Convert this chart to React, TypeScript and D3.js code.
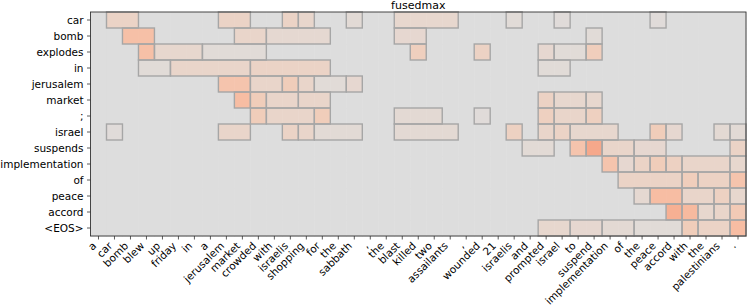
import React from 'react';
import * as d3 from 'd3';

const width = 747;
const height = 308;

// source sentence (columns)
const srcTokens = ["a", "car", "bomb", "blew", "up", "friday", "in", "a", "jerusalem", "market", "crowded", "with",
  "israelis", "shopping", "for", "the", "sabbath", ",", "the", "blast", "killed", "two", "assailants", ",", "wounded",
  "21", "israelis", "and", "prompted", "israel", "to", "suspend", "implementation", "of", "the", "peace", "accord",
  "with", "the", "palestinians", "."];

// target sentence (rows)
const tgtTokens = ["car", "bomb", "explodes", "in", "jerusalem", "market", ";", "israel", "suspends",
  "implementation", "of", "peace", "accord", "<EOS>"];

// fused groups per target row: [first col, last col, attention weight]
const fusedGroups: [number, number, number][][] = [
  [[1, 2, 0.12], [8, 9, 0.12], [12, 12, 0.12], [13, 13, 0.09], [16, 16, 0.04], [19, 22, 0.08], [26, 26, 0.03], [29, 29, 0.02], [35, 35, 0.02]],
  [[2, 3, 0.28], [9, 10, 0.1], [11, 14, 0.06], [19, 20, 0.07], [31, 31, 0.03]],
  [[3, 3, 0.28], [4, 6, 0.08], [7, 10, 0.03], [20, 20, 0.16], [24, 24, 0.13], [28, 28, 0.07], [29, 30, 0.03], [31, 31, 0.17]],
  [[3, 4, 0.03], [5, 9, 0.1], [10, 14, 0.12], [28, 29, 0.03]],
  [[8, 9, 0.25], [10, 11, 0.1], [12, 12, 0.18], [13, 13, 0.1], [14, 15, 0.03], [16, 16, 0.07]],
  [[9, 9, 0.3], [10, 10, 0.18], [11, 12, 0.1], [13, 14, 0.1], [28, 28, 0.13], [29, 30, 0.08], [31, 31, 0.08]],
  [[10, 10, 0.18], [11, 13, 0.1], [14, 14, 0.18], [19, 21, 0.05], [24, 24, 0.02], [28, 28, 0.15], [29, 30, 0.1], [31, 31, 0.15]],
  [[1, 1, 0.02], [8, 9, 0.1], [12, 12, 0.12], [13, 13, 0.1], [14, 16, 0.04], [19, 22, 0.05], [26, 26, 0.14], [28, 28, 0.1],
    [29, 29, 0.12], [30, 32, 0.08], [35, 35, 0.18], [36, 36, 0.07], [39, 39, 0.05], [40, 40, 0.04]],
  [[27, 28, 0.04], [30, 30, 0.25], [31, 31, 0.42], [32, 33, 0.1], [34, 35, 0.07], [40, 40, 0.12]],
  [[32, 32, 0.25], [33, 33, 0.07], [34, 34, 0.12], [35, 35, 0.18], [36, 36, 0.14], [37, 39, 0.1], [40, 40, 0.08]],
  [[33, 36, 0.12], [37, 37, 0.17], [38, 39, 0.13], [40, 40, 0.25]],
  [[34, 34, 0.06], [35, 36, 0.3], [37, 38, 0.1], [39, 39, 0.14], [40, 40, 0.08]],
  [[36, 36, 0.38], [37, 37, 0.32], [38, 38, 0.08], [39, 39, 0.1], [40, 40, 0.2]],
  [[28, 29, 0.08], [30, 31, 0.07], [32, 33, 0.05], [34, 36, 0.03], [37, 37, 0.18], [38, 39, 0.12], [40, 40, 0.3]],
];

// upper half of matplotlib's coolwarm (value 0 -> middle grey, value 1 -> dark red)
const coolwarmUpper = ["#dddddd", "#e5d8d1", "#ecd3c5", "#f1ccb8", "#f5c4ad", "#f7bba0", "#f7b194", "#f6a587",
  "#f49a7b", "#f18d6f", "#ec7f63", "#e57058", "#de604d", "#d55042", "#cb3e38", "#c0282f", "#b40426"];

const margin = {top: 12, right: 1, bottom: 72, left: 90.5};
const font = "'DejaVu Sans', sans-serif";
const tickFont = 10.5;

export default function App() {
  const x = d3.scaleBand<number>()
    .domain(d3.range(srcTokens.length))
    .range([margin.left, width - margin.right]);
  const y = d3.scaleBand<number>()
    .domain(d3.range(tgtTokens.length))
    .range([margin.top, height - margin.bottom]);

  const color = d3.scaleLinear<string>()
    .domain(coolwarmUpper.map((_, i) => i / (coolwarmUpper.length - 1)))
    .range(coolwarmUpper)
    .interpolate(d3.interpolateRgb)
    .clamp(true);

  // expand groups into full matrix
  const matrix = tgtTokens.map((_, r) => {
    const rowVals = srcTokens.map(() => 0);
    fusedGroups[r].forEach(([s, e, v]) => {
      for (let c = s; c <= e; c++) rowVals[c] = v;
    });
    return rowVals;
  });

  const [x0, x1] = x.range();
  const [y0, y1] = y.range();

  return (
    <div style={{position: 'absolute', left: 0, top: 0}}>
      <svg width={width} height={height} style={{display: 'block', background: '#fff'}}>
        {/* cells */}
        {matrix.map((rowVals, r) => rowVals.map((v, c) => (
          <rect key={`c${r}-${c}`} x={x(c)} y={y(r)} width={x.bandwidth() + 0.5} height={y.bandwidth() + 0.5}
                fill={color(v)}/>
        )))}

        {/* fused group outlines */}
        {fusedGroups.map((groups, r) => groups.map(([s, e], i) => (
          <rect key={`g${r}-${i}`} x={x(s)} y={y(r)} width={(x(e)! + x.bandwidth()) - x(s)!}
                height={y.bandwidth()} fill="none" stroke="#a6a6a6" strokeWidth={1.4}/>
        )))}

        {/* frame */}
        <rect x={x0} y={y0} width={x1 - x0} height={y1 - y0} fill="none" stroke="#333" strokeWidth={0.9}/>

        {/* y axis */}
        {tgtTokens.map((t, r) => {
          const cy = y(r)! + y.bandwidth() / 2;
          return (
            <g key={`y${r}`}>
              <line x1={x0} x2={x0 - 3.5} y1={cy} y2={cy} stroke="#333" strokeWidth={0.8}/>
              <text x={x0 - 7} y={cy} dy="0.35em" textAnchor="end" fontFamily={font} fontSize={tickFont}>{t}</text>
            </g>
          );
        })}

        {/* x axis, labels rotated 45deg and right-aligned on the tick */}
        {srcTokens.map((t, c) => {
          const cx = x(c)! + x.bandwidth() / 2;
          return (
            <g key={`x${c}`}>
              <line x1={cx} x2={cx} y1={y1} y2={y1 + 3.5} stroke="#333" strokeWidth={0.8}/>
              <text transform={`translate(${cx - 1.5},${y1 + 10.5}) rotate(-45)`} textAnchor="end"
                    fontFamily={font} fontSize={tickFont}>{t}</text>
            </g>
          );
        })}

        <text x={(x0 + x1) / 2} y={8.5} textAnchor="middle" fontFamily={font} fontSize={11}>fusedmax</text>
      </svg>
    </div>
  );
}
